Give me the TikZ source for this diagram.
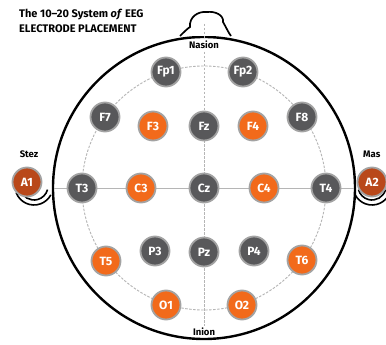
\documentclass[tikz,border=0pt]{standalone}
\usepackage{fontspec}
\setmainfont{Fira Sans}
\definecolor{dgray}{HTML}{58585A}
\definecolor{ringgray}{HTML}{A3A3A3}
\definecolor{orng}{HTML}{F26A1B}
\definecolor{brwn}{HTML}{B9481A}
\definecolor{guide}{HTML}{B5B5B5}
\begin{document}
\begin{tikzpicture}[x=1pt,y=-1pt,
  elec/.style={circle,minimum size=29pt,inner sep=0pt,draw=ringgray,line width=1.8pt,
    text=white,font=\bfseries\fontsize{12}{13}\selectfont},
  gel/.style={elec,fill=dgray},
  oel/.style={elec,fill=orng},
  eel/.style={elec,fill=brwn},
  lbl/.style={font=\bfseries\fontsize{9.5}{10}\selectfont,inner sep=0pt},
  ttl/.style={anchor=west,inner sep=0pt,font=\bfseries\fontsize{11}{12}\selectfont},
  headline/.style={line width=2.4pt,black},
  guideline/.style={guide,line width=0.9pt,dash pattern=on 2.5pt off 1.5pt},
  hline/.style={guide,line width=0.9pt}]
\useasboundingbox[fill=white] (0,0) rectangle (386,345);
% title
\node[ttl] (t1) at (19,15) {The 10–20 System \textit{of} EEG};
\node[ttl] (t2) at (19,29) {ELECTRODE PLACEMENT};
% head
\coordinate (hc) at (204,188);
\draw[headline] (hc) circle[radius=151];
% nose
\draw[line width=1.7pt,fill=white] (180,36) .. controls (184,32) and (187,29) .. (190,27)
  .. controls (189,17) and (198,11) .. (207,12)
  .. controls (215,11) and (224,15) .. (223,22)
  .. controls (226,27) and (228,32) .. (231,36);
% ears
\draw[line width=1.6pt] (34,186) ++(165:14) arc[start angle=165,end angle=15,radius=14];
\draw[line width=1.6pt] (34,186) ++(160:19) arc[start angle=160,end angle=28,radius=19];
\draw[line width=1.6pt] (372,186) ++(15:14) arc[start angle=15,end angle=165,radius=14];
\draw[line width=1.6pt] (372,186) ++(20:19) arc[start angle=20,end angle=152,radius=19];
% guides
\draw[guideline] (hc) circle[radius=122];
\coordinate (vtop) at (204,24);
\coordinate (vbot) at (204,326);
\draw[guideline] (vtop) -- (vbot);
\coordinate (hl) at (54,188);
\coordinate (hr) at (354,188);
\draw[hline] (hl) -- (hr);
% labels
\node[lbl,fill=white,inner sep=1pt] (nas) at (204,45) {Nasion};
\node[lbl,fill=white,inner sep=1pt] (ini) at (204,332) {Inion};
\node[lbl] (l1) at (29,154) {Stez};
\node[lbl,anchor=west] (l2) at (363,154) {Mas};
% electrodes
\node[gel] (Fp1) at (166,72) {Fp1};
\node[gel] (Fp2) at (243,72) {Fp2};
\node[gel] (F7) at (105,117) {F7};
\node[oel] (F3) at (153,126) {F3};
\node[gel] (Fz) at (204,126) {Fz};
\node[oel] (F4) at (253,126) {F4};
\node[gel] (F8) at (302,117) {F8};
\node[gel] (T3) at (82,188) {T3};
\node[oel] (C3) at (141,188) {C3};
\node[gel] (Cz) at (204,188) {Cz};
\node[oel] (C4) at (264,188) {C4};
\node[gel] (T4) at (326,188) {T4};
\node[oel] (T5) at (106,261) {T5};
\node[gel] (P3) at (155,251) {P3};
\node[gel] (Pz) at (204,252) {Pz};
\node[gel] (P4) at (254,251) {P4};
\node[oel] (T6) at (302,260) {T6};
\node[oel] (O1) at (166,305) {O1};
\node[oel] (O2) at (242,305) {O2};
\node[eel] (A1) at (27,182) {A1};
\node[eel] (A2) at (372,182) {A2};
\end{tikzpicture}
\end{document}
